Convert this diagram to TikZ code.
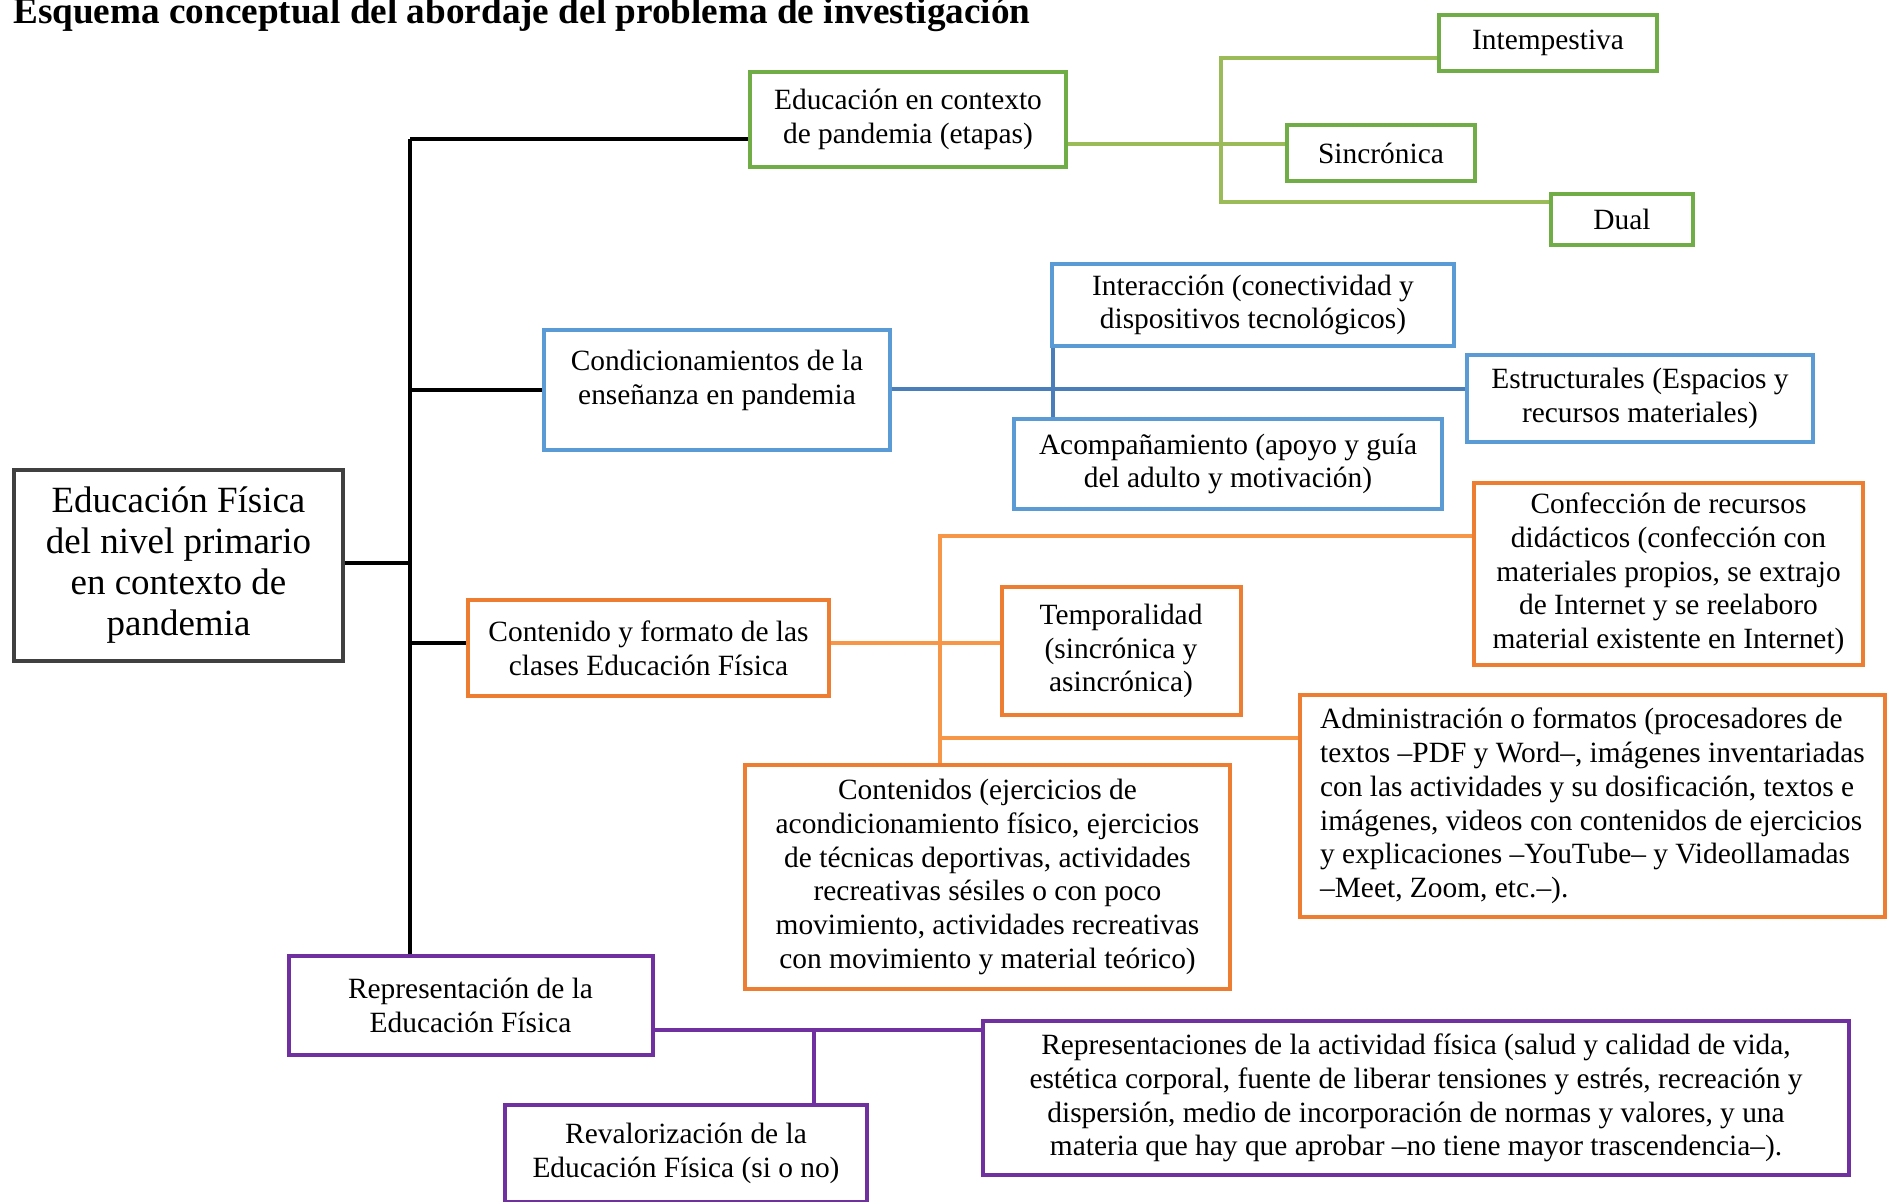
\documentclass[tikz,border=0pt]{standalone}
\usepackage{fontspec}
\setmainfont{Liberation Serif}
\definecolor{verde}{HTML}{70AD47}
\definecolor{verdeclaro}{HTML}{9BBB59}
\definecolor{azul}{HTML}{5B9BD5}
\definecolor{azuloscuro}{HTML}{4A7EBB}
\definecolor{naranja}{HTML}{ED7D31}
\definecolor{naranjaclaro}{HTML}{F79646}
\definecolor{morado}{HTML}{7030A0}
\definecolor{gris}{HTML}{404040}
\tikzset{
  caja/.style={draw, line width=4pt, align=center, inner sep=0pt, font=\fontsize{29.4}{33.7}\selectfont},
  cajaverde/.style={caja, draw=verde},
  cajaazul/.style={caja, draw=azul},
  cajanaranja/.style={caja, draw=naranja},
  cajamorada/.style={caja, draw=morado},
  tronco/.style={line width=3.5pt, black},
  lineaverde/.style={line width=3.5pt, verdeclaro},
  lineaazul/.style={line width=3.5pt, azuloscuro},
  lineanaranja/.style={line width=3.5pt, naranjaclaro},
  lineamorada/.style={line width=3.5pt, morado},
}

\begin{document}
\begin{tikzpicture}[x=1pt, y=-1pt]
    \useasboundingbox (0,0) rectangle (1888,1202);
    \node[anchor=base west, inner sep=0pt, font=\bfseries\fontsize{37.2}{40}\selectfont] (titulo) at (13,23) {Esquema conceptual del abordaje del problema de investigación};

    \node[caja, draw=gris, font=\fontsize{37}{41}\selectfont, minimum width=329pt, minimum height=191pt] (edfis) at (178.5,565.5) {Educación Física\\del nivel primario\\en contexto de\\pandemia};

    % etapas
    \node[cajaverde, minimum width=316pt, minimum height=95pt] (etapas) at (908,119.5) {Educación en contexto\\de pandemia (etapas)};
    \node[cajaverde, minimum width=218pt, minimum height=56pt] (intemp) at (1548,43) {Intempestiva};
    \node[cajaverde, minimum width=188pt, minimum height=56pt] (sinc) at (1381,153) {Sincrónica};
    \node[cajaverde, minimum width=142pt, minimum height=51pt] (dual) at (1622,219.5) {Dual};

    % condicionamientos
    \node[cajaazul, minimum width=346pt, minimum height=120pt, text depth=24pt] (cond) at (717,389.5) {Condicionamientos de la\\enseñanza en pandemia};
    \node[cajaazul, minimum width=402pt, minimum height=82pt] (inter) at (1253,305) {Interacción (conectividad y\\dispositivos tecnológicos)};
    \node[cajaazul, minimum width=428pt, minimum height=90pt] (acomp) at (1228,464) {Acompañamiento (apoyo y guía\\del adulto y motivación)};
    \node[cajaazul, minimum width=346pt, minimum height=87pt] (estruct) at (1640,398.5) {Estructurales (Espacios y\\recursos materiales)};

    % contenido y formato
    \node[cajanaranja, minimum width=361pt, minimum height=96pt] (contfor) at (648.5,648) {Contenido y formato de las\\clases Educación Física};
    \node[cajanaranja, minimum width=239pt, minimum height=128pt] (temp) at (1121,651) {Temporalidad\\(sincrónica y\\asincrónica)};
    \node[cajanaranja, minimum width=389pt, minimum height=182pt] (confec) at (1668.5,574) {Confección de recursos\\didácticos (confección con\\materiales propios, se extrajo\\de Internet y se reelaboro\\material existente en Internet)};
    \node[cajanaranja, align=left, minimum width=585pt, minimum height=222pt] (admin) at (1592.5,806) {Administración o formatos (procesadores de\\textos –PDF y Word–, imágenes inventariadas\\con las actividades y su dosificación, textos e\\imágenes, videos con contenidos de ejercicios\\y explicaciones –YouTube– y Videollamadas\\–Meet, Zoom, etc.–).};
    \node[cajanaranja, minimum width=485pt, minimum height=224pt] (conten) at (987.5,877) {Contenidos (ejercicios de\\acondicionamiento físico, ejercicios\\de técnicas deportivas, actividades\\recreativas sésiles o con poco\\movimiento, actividades recreativas\\con movimiento y material teórico)};

    % representacion
    \node[cajamorada, minimum width=364pt, minimum height=99pt] (repr) at (470.5,1005.5) {Representación de la\\Educación Física};
    \node[cajamorada, minimum width=866pt, minimum height=154pt] (reprs) at (1416,1098) {Representaciones de la actividad física (salud y calidad de vida,\\estética corporal, fuente de liberar tensiones y estrés, recreación y\\dispersión, medio de incorporación de normas y valores, y una\\materia que hay que aprobar –no tiene mayor trascendencia–).};
    \node[cajamorada, minimum width=362pt, minimum height=97pt] (reval) at (686,1153.5) {Revalorización de la\\Educación Física (si o no)};

    % tronco
    \coordinate (t1) at (410,139);
    \coordinate (t2) at (410,390);
    \coordinate (t0) at (410,563);
    \coordinate (t3) at (410,643);
    \draw[tronco] (t1) -- (repr.north -| t1);
    \draw[tronco] (t1) -- (etapas.west |- t1);
    \draw[tronco] (edfis.east |- t0) -- (t0);
    \draw[tronco] (t2) -- (cond.west |- t2);
    \draw[tronco] (t3) -- (contfor.west |- t3);

    \coordinate (g1) at (1221,58);
    \coordinate (g2) at (1221,144);
    \coordinate (g3) at (1221,202);
    \draw[lineaverde] (etapas.east |- g2) -- (sinc.west |- g2);
    \draw[lineaverde] (intemp.west |- g1) -- (g1) -- (g3) -- (dual.west |- g3);

    \coordinate (b1) at (1053,389);
    \draw[lineaazul] (cond.east |- b1) -- (estruct.west |- b1);
    \draw[lineaazul] (inter.south -| b1) -- (acomp.north -| b1);

    \coordinate (n1) at (940,536);
    \coordinate (n2) at (940,643);
    \coordinate (n3) at (940,738);
    \draw[lineanaranja] (contfor.east |- n2) -- (temp.west |- n2);
    \draw[lineanaranja] (confec.west |- n1) -- (n1) -- (conten.north -| n1);
    \draw[lineanaranja] (n3) -- (admin.west |- n3);

    \coordinate (m1) at (814,1030);
    \draw[lineamorada] (repr.east |- m1) -- (reprs.west |- m1);
    \draw[lineamorada] (m1) -- (reval.north -| m1);
\end{tikzpicture}
\end{document}
